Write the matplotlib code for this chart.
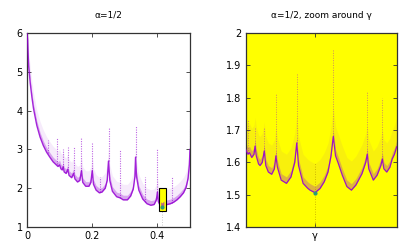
import numpy as np
import matplotlib
matplotlib.use("Agg")
import matplotlib.pyplot as plt
from matplotlib.patches import Rectangle

# ---- left panel: lower edge of the point cloud ----
env_x = [0.000, 0.002, 0.005, 0.010, 0.015, 0.020, 0.030, 0.040, 0.050, 0.060,
         0.070, 0.080, 0.090, 0.095, 0.100, 0.104, 0.108, 0.111, 0.114, 0.120,
         0.125, 0.129, 0.137, 0.143, 0.147, 0.155, 0.162, 0.167, 0.171, 0.180,
         0.190, 0.196, 0.200, 0.204, 0.212, 0.222, 0.230, 0.240, 0.246, 0.250,
         0.254, 0.262, 0.275, 0.286, 0.295, 0.308, 0.318, 0.326, 0.331, 0.333,
         0.336, 0.343, 0.355, 0.368, 0.380, 0.390, 0.397, 0.400, 0.403, 0.410,
         0.414, 0.420, 0.430, 0.440, 0.450, 0.460, 0.470, 0.480, 0.488, 0.494,
         0.498, 0.500]
env_y = [6.00, 5.80, 5.15, 4.70, 4.35, 4.05, 3.62, 3.32, 3.10, 2.93,
         2.80, 2.68, 2.60, 2.56, 2.60, 2.50, 2.47, 2.55, 2.42, 2.38,
         2.48, 2.33, 2.27, 2.38, 2.24, 2.16, 2.20, 2.45, 2.15, 2.05,
         2.05, 2.15, 2.45, 2.10, 1.95, 1.88, 1.90, 2.00, 2.20, 2.70,
         2.20, 1.92, 1.78, 1.75, 1.70, 1.70, 1.80, 1.98, 2.30, 2.80,
         2.30, 1.95, 1.72, 1.60, 1.56, 1.58, 1.70, 1.90, 1.65, 1.53,
         1.50, 1.55, 1.58, 1.60, 1.64, 1.70, 1.78, 1.88, 2.02, 2.25,
         2.60, 3.00]
spike_x    = [0.065, 0.091, 0.111, 0.125, 0.143, 0.167, 0.200, 0.224, 0.250,
              0.285, 0.333, 0.362, 0.400, 0.444, 0.500]
spike_base = [2.90, 2.62, 2.55, 2.48, 2.38, 2.45, 2.45, 1.90, 2.70,
              1.76, 2.80, 1.65, 1.90, 1.62, 3.00]
spike_top  = [3.24, 3.29, 3.00, 3.05, 3.07, 3.33, 3.16, 2.30, 3.55,
              2.98, 3.60, 2.30, 3.03, 2.30, 3.60]
box_x = [0.405, 0.425]
box_y = [1.4, 2.0]
gamma = 0.4142
gamma_min = 1.506

# ---- right panel (zoom window, position as fraction of window) ----
z_x = [0.000, 0.015, 0.025, 0.040, 0.055, 0.062, 0.070, 0.085, 0.095, 0.110,
       0.123, 0.133, 0.150, 0.172, 0.190, 0.200, 0.210, 0.235, 0.270, 0.300,
       0.325, 0.338, 0.350, 0.380, 0.410, 0.426, 0.459, 0.492, 0.520, 0.545,
       0.565, 0.580, 0.595, 0.613, 0.640, 0.670, 0.700, 0.730, 0.770, 0.795,
       0.805, 0.815, 0.845, 0.870, 0.895, 0.905, 0.915, 0.934, 0.955, 0.970,
       0.985, 1.000]
z_y = [1.640, 1.625, 1.630, 1.615, 1.625, 1.650, 1.620, 1.595, 1.590, 1.600,
       1.635, 1.590, 1.570, 1.563, 1.580, 1.620, 1.585, 1.545, 1.535, 1.555,
       1.600, 1.660, 1.590, 1.535, 1.520, 1.514, 1.506, 1.519, 1.540, 1.570,
       1.620, 1.680, 1.620, 1.597, 1.560, 1.525, 1.514, 1.530, 1.565, 1.600,
       1.625, 1.580, 1.545, 1.560, 1.590, 1.610, 1.580, 1.570, 1.585, 1.610,
       1.625, 1.648]
zs_x    = [0.017, 0.062, 0.123, 0.200, 0.338, 0.580, 0.805, 0.905]
zs_base = [1.630, 1.650, 1.635, 1.620, 1.660, 1.680, 1.625, 1.610]
zs_top  = [1.730, 1.710, 1.710, 1.810, 1.877, 1.950, 1.820, 1.800]
z_gamma = 0.459

purple = "#9400D3"
frame = "#333333"

fig = plt.figure(figsize=(4.15, 2.49), dpi=100)
ax1 = fig.add_axes([27/415, 1-227/249, 163/415, 194/249])
ax2 = fig.add_axes([245.7/415, 1-227/249, 151/415, 194/249])

# left
ex = np.array(env_x); ey = np.array(env_y)
ax1.fill_between(ex, ey, ey + 0.40, color=purple, alpha=0.08, lw=0, zorder=2)
ax1.fill_between(ex, ey, ey + 0.12, color=purple, alpha=0.30, lw=0, zorder=2)
ax1.plot(ex, ey, color=purple, lw=1.0, alpha=0.85, zorder=3)
ax1.vlines(spike_x, spike_base, spike_top, color=purple, lw=0.8, alpha=0.6,
           linestyles=(0, (1, 1.2)), zorder=3)
ax1.add_patch(Rectangle((box_x[0], box_y[0]), box_x[1]-box_x[0], box_y[1]-box_y[0],
                        facecolor="yellow", edgecolor="black", lw=0.8, zorder=4))
ax1.fill_between(ex, ey, ey + 0.12, where=(ex >= box_x[0]) & (ex <= box_x[1]),
                 color=purple, alpha=0.6, lw=0, zorder=5)
ax1.vlines([gamma], 1.05, 1.4, color="#888888", lw=0.6, alpha=0.6,
           linestyles=(0, (1, 2)), zorder=3)
ax1.plot([gamma], [gamma_min], "o", ms=2.0, color="#2a9a7a", zorder=6)
ax1.set_xlim(0, 0.5)
ax1.set_ylim(1, 6)
ax1.set_xticks([0, 0.2, 0.4])
ax1.set_xticklabels(["0", "0.2", "0.4"])
ax1.set_yticks([1, 2, 3, 4, 5, 6])
ax1.set_title("α=1/2", fontsize=6.5, pad=11)

# right
ax2.set_facecolor("yellow")
zx = np.array(z_x); zy = np.array(z_y)
ax2.fill_between(zx, zy, zy + 0.09, color=purple, alpha=0.06, lw=0, zorder=2)
ax2.fill_between(zx, zy, zy + 0.02, color=purple, alpha=0.25, lw=0, zorder=2)
ax2.plot(zx, zy, color=purple, lw=0.9, alpha=0.9, zorder=3)
ax2.vlines(zs_x, zs_base, zs_top, color=purple, lw=0.7, alpha=0.45,
           linestyles=(0, (1, 1.5)), zorder=3)
ax2.vlines([z_gamma], 1.4, 1.6, color="#b09000", lw=0.6, alpha=0.8,
           linestyles=(0, (1, 2)), zorder=3)
ax2.plot([z_gamma], [gamma_min], "o", ms=2.0, color="#2a9a7a", zorder=4)
ax2.set_xlim(0, 1)
ax2.set_ylim(1.4, 2.0)
ax2.set_xticks([z_gamma])
ax2.set_xticklabels(["γ"])
ax2.set_yticks([1.4, 1.5, 1.6, 1.7, 1.8, 1.9, 2.0])
ax2.set_yticklabels(["1.4", "1.5", "1.6", "1.7", "1.8", "1.9", "2"])
ax2.set_title("α=1/2, zoom around γ", fontsize=6.5, pad=11)

for ax in (ax1, ax2):
    for s in ax.spines.values():
        s.set_color(frame)
        s.set_linewidth(0.9)
    ax.tick_params(direction="in", length=3, width=0.6, labelsize=7,
                   top=True, right=True, colors=frame, labelcolor="black", pad=3)

fig.savefig("out.png", dpi=100)
